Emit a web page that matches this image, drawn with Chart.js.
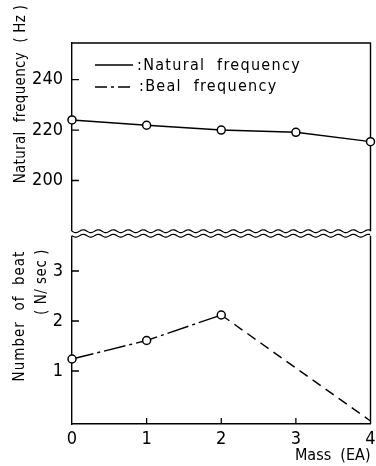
<!DOCTYPE html>
<html>
<head>
<meta charset="utf-8">
<script src="https://cdn.jsdelivr.net/npm/chart.js@4"></script>
<style>
  html, body { margin: 0; padding: 0; background: #fff; }
  #wrap { width: 376px; height: 466px; position: relative; }
</style>
</head>
<body>
<div id="wrap"><canvas id="c" width="376" height="466"></canvas></div>
<script>
// ---- data ----
const massX = [0, 1, 2, 3, 4];
const naturalFreq = [224.0, 221.9, 220.0, 219.1, 215.4];
const beatX = [0, 1, 2, 4];
const beatNumber = [1.24, 1.61, 2.12, 0];
const xTicks = [0, 1, 2, 3, 4];
const freqTicks = [200, 220, 240];
const beatTicks = [1, 2, 3];
const legendLabels = [':Natural  frequency', ':Beal  frequency'];
const titleFreq = 'Natural  frequency  ( Hz )';
const titleBeat1 = 'Number  of  beat';
const titleBeat2 = '( N/ sec )';
const titleMass = 'Mass  (EA)';

const FONT = "'DejaVu Sans Condensed', 'Liberation Sans Narrow', sans-serif";

const framePlugin = {
  id: 'frame',
  beforeDatasetsDraw(chart) {
    const ctx = chart.ctx, a = chart.chartArea;
    const yTop = chart.scales.yTop, yBot = chart.scales.yBot;
    ctx.save();
    ctx.strokeStyle = '#000';
    ctx.lineWidth = 1.4;
    // top and right frame lines
    ctx.beginPath();
    ctx.moveTo(a.left, a.top);
    ctx.lineTo(a.right, a.top);
    ctx.lineTo(a.right, a.bottom);
    ctx.stroke();
    // inward ticks on the axes
    ctx.lineWidth = 1.3;
    ctx.beginPath();
    freqTicks.forEach(v => { const y = yTop.getPixelForValue(v); ctx.moveTo(a.left, y); ctx.lineTo(a.left + 7, y); });
    beatTicks.forEach(v => { const y = yBot.getPixelForValue(v); ctx.moveTo(a.left, y); ctx.lineTo(a.left + 7, y); });
    const xs = chart.scales.x;
    xTicks.slice(1, 4).forEach(v => { const x = xs.getPixelForValue(v); ctx.moveTo(x, a.bottom); ctx.lineTo(x, a.bottom - 6); });
    ctx.stroke();
    // axis break: gap + two wavy lines
    const mid = yTop.bottom;
    ctx.fillStyle = '#fff';
    ctx.fillRect(a.left - 2, mid - 2.2, a.right - a.left + 4, 4.4);
    ctx.lineWidth = 1.2;
    [mid - 2.3, mid + 2.2].forEach(base => {
      ctx.beginPath();
      for (let x = a.left; x <= a.right; x += 1) {
        const y = base + 1.4 * Math.sin((x - a.left) * 2 * Math.PI / 15);
        if (x === a.left) ctx.moveTo(x, y); else ctx.lineTo(x, y);
      }
      ctx.stroke();
    });
    ctx.restore();
  },
  afterDraw(chart) {
    const ctx = chart.ctx, a = chart.chartArea;
    ctx.save();
    ctx.fillStyle = '#000';
    ctx.strokeStyle = '#000';
    // rotated y titles
    const vtext = (t, cx, cy, size, sp) => {
      ctx.save();
      ctx.translate(cx, cy);
      ctx.rotate(-Math.PI / 2);
      ctx.font = size + 'px ' + FONT;
      ctx.letterSpacing = sp;
      ctx.textAlign = 'center';
      ctx.textBaseline = 'middle';
      ctx.fillText(t, 0, 0);
      ctx.restore();
    };
    vtext(titleFreq, 21, 94, 15, '0.3px');
    vtext(titleBeat1, 20, 316, 15, '1px');
    vtext(titleBeat2, 42, 282, 15, '0.5px');
    // legend inside the plot
    const lx0 = a.left + 23, lx1 = a.left + 61;
    ctx.lineWidth = 1.4;
    ctx.beginPath(); ctx.setLineDash([]);
    ctx.moveTo(lx0, 65); ctx.lineTo(lx1, 65); ctx.stroke();
    ctx.beginPath(); ctx.setLineDash([12, 4, 3, 4]);
    ctx.moveTo(lx0, 87); ctx.lineTo(lx1, 87); ctx.stroke();
    ctx.setLineDash([]);
    ctx.font = '16px ' + FONT;
    ctx.letterSpacing = '1.3px';
    ctx.textBaseline = 'middle';
    ctx.textAlign = 'left';
    ctx.fillText(legendLabels[0], lx1 + 4, 66);
    ctx.fillText(legendLabels[1], lx1 + 6, 87);
    ctx.restore();
  }
};

const yFit = s => { s.width = 40; };

new Chart(document.getElementById('c'), {
  type: 'line',
  data: {
    datasets: [
      {
        label: 'Natural frequency',
        data: massX.map((x, i) => ({ x, y: naturalFreq[i] })),
        yAxisID: 'yTop',
        borderColor: '#000',
        borderWidth: 1.4,
        pointRadius: 4,
        pointBackgroundColor: '#fff',
        pointBorderColor: '#000',
        pointBorderWidth: 1.5,
        tension: 0,
        clip: false
      },
      {
        label: 'Beal frequency',
        data: beatX.map((x, i) => ({ x, y: beatNumber[i] })),
        yAxisID: 'yBot',
        borderColor: '#000',
        borderWidth: 1.4,
        pointRadius: ctx => (ctx.dataIndex === beatX.length - 1 ? 0 : 4),
        pointBackgroundColor: '#fff',
        pointBorderColor: '#000',
        pointBorderWidth: 1.5,
        tension: 0,
        clip: false,
        segment: {
          borderDash: ctx => (ctx.p0DataIndex >= 2 ? [10, 6] : [22, 4, 3, 4])
        }
      }
    ]
  },
  options: {
    responsive: false,
    animation: false,
    events: [],
    layout: { padding: { left: 32, top: 43, right: 4, bottom: 0 } },
    plugins: { legend: { display: false }, tooltip: { enabled: false } },
    scales: {
      x: {
        type: 'linear',
        min: 0, max: 4,
        afterBuildTicks: s => { s.ticks = xTicks.map(v => ({ value: v })); },
        afterFit: s => { s.height = 42; s.paddingLeft = 0; s.paddingRight = 0; },
        grid: { display: true, drawOnChartArea: false, drawTicks: false },
        border: { display: true, color: '#000', width: 1.4 },
        ticks: { color: '#000', padding: 5, font: { family: FONT, size: 18 } },
        title: {
          display: true, text: titleMass, align: 'end', color: '#000',
          font: { family: FONT, size: 16, lineHeight: 1 },
          padding: { top: -3, bottom: 2 }
        }
      },
      yBot: {
        type: 'linear',
        position: 'left',
        stack: 'v',
        stackWeight: 1,
        min: -0.06, max: 3.75,
        afterBuildTicks: s => { s.ticks = beatTicks.map(v => ({ value: v })); },
        afterFit: yFit,
        grid: { display: true, drawOnChartArea: false, drawTicks: false },
        border: { display: true, color: '#000', width: 1.4 },
        ticks: { color: '#000', padding: 9, font: { family: FONT, size: 18 } }
      },
      yTop: {
        type: 'linear',
        position: 'left',
        stack: 'v',
        stackWeight: 1,
        min: 179.0, max: 254.5,
        afterBuildTicks: s => { s.ticks = freqTicks.map(v => ({ value: v })); },
        afterFit: yFit,
        grid: { display: true, drawOnChartArea: false, drawTicks: false },
        border: { display: true, color: '#000', width: 1.4 },
        ticks: { color: '#000', padding: 9, font: { family: FONT, size: 18 } }
      }
    }
  },
  plugins: [framePlugin]
});
</script>
</body>
</html>
